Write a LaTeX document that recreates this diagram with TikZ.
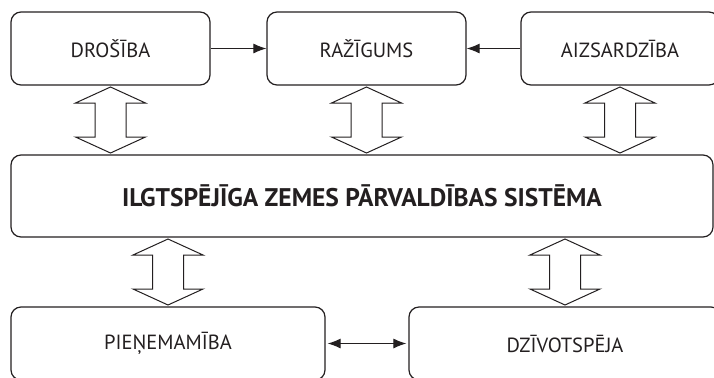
\documentclass[tikz,border=0pt]{standalone}
\usepackage{fontspec}
\setmainfont{PT Sans}
\usetikzlibrary{calc,arrows.meta}
\definecolor{ink}{HTML}{231F20}
\tikzset{
  box/.style={draw=ink, line width=1.2bp, rounded corners=10bp, inner sep=0pt,
    text=ink, font=\fontsize{20.5bp}{24bp}\selectfont},
  tip/.tip={Latex[length=13bp,width=10bp]},
  link/.style={draw=ink, line width=1.1bp, -tip},
  pics/updown/.style={code={
    \draw[ink, line width=1bp, fill=white]
      (0,-33) -- (35,-17) -- (15.5,-17) -- (15.5,17) -- (35,17) -- (0,33)
      -- (-35,17) -- (-15.5,17) -- (-15.5,-17) -- (-35,-17) -- cycle;
  }}
}
\begin{document}
\begin{tikzpicture}[x=1bp, y=-1bp]
  \useasboundingbox (0,0) rectangle (714,377);
  \clip (0,0) rectangle (714,377);
  % upper row
  \node[box, minimum width=199bp, minimum height=73bp] (dros) at (110.5,48.5) {DROŠĪBA};
  \node[box, minimum width=199bp, minimum height=73bp] (raz) at (366.5,48.5) {RAŽĪGUMS};
  \node[box, minimum width=198bp, minimum height=73bp] (aiz) at (620,48.5) {AIZSARDZĪBA};
  % central system
  \node[box, minimum width=702bp, minimum height=82bp,
        font=\fontsize{25.5bp}{29bp}\selectfont\bfseries] (main) at (362,196) {ILGTSPĒJĪGA ZEMES PĀRVALDĪBAS SISTĒMA};
  % lower row
  \node[box, minimum width=314bp, minimum height=73bp] (pien) at (168,343.5) {PIEŅEMAMĪBA};
  \node[box, minimum width=312bp, minimum height=73bp] (dziv) at (565,343.5) {DZĪVOTSPĒJA};
  % single links
  \draw[link] (dros.east) -- (raz.west);
  \draw[link] (aiz.west) -- (raz.east);
  \draw[link, tip-tip, shorten <=2bp, shorten >=2bp] (pien.east) -- (dziv.west);
  % two-way exchange arrows
  \pic at ($(dros.south)!0.5!(main.north -| dros.south)$) {updown};
  \pic at ($(raz.south)!0.5!(main.north -| raz.south)$) {updown};
  \pic at ($(aiz.south)!0.5!(main.north -| aiz.south)$) {updown};
  \pic at ($(main.south -| pien.north)!0.5!(pien.north)$) {updown};
  \pic at ($(main.south -| dziv.north)!0.5!(dziv.north)$) {updown};
\end{tikzpicture}
\end{document}
